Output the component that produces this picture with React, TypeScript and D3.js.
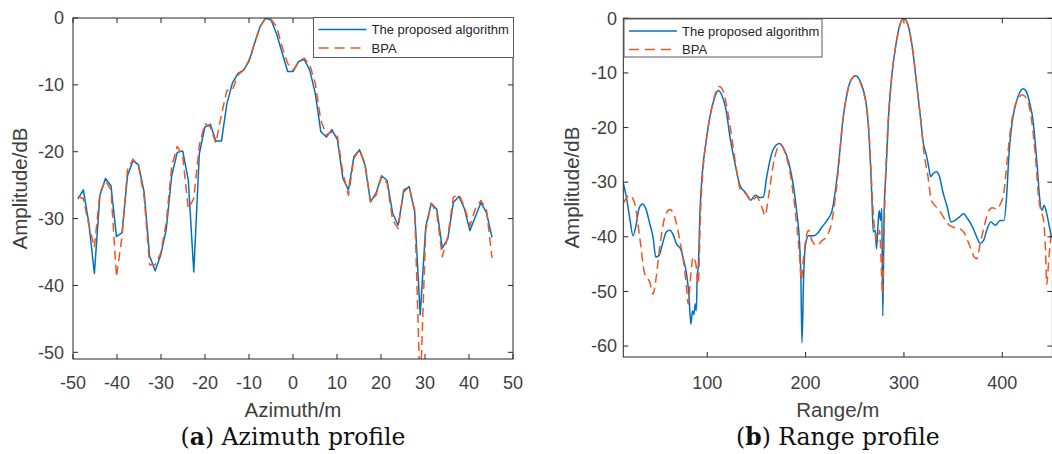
import React from 'react';
import * as d3 from 'd3';

// ---- Azimuth profile samples ----
const AZ_X = [
  -48.9, -47.65, -46.39, -45.14, -43.88, -42.63, -41.37, -40.12, -38.86, -37.61,
  -36.35, -35.1, -33.84, -32.59, -31.33, -30.08, -28.82, -27.57, -26.31, -25.06,
  -23.8, -22.55, -21.29, -20.04, -18.78, -17.53, -16.27, -15.02, -13.76, -12.51,
  -11.25, -10.0, -8.74, -7.49, -6.23, -4.98, -3.72, -2.47, -1.21, 0.05,
  1.3, 2.56, 3.81, 5.07, 6.32, 7.58, 8.83, 10.09, 11.34, 12.6,
  13.85, 15.11, 16.36, 17.62, 18.87, 20.13, 21.38, 22.64, 23.89, 25.15,
  26.4, 27.66, 28.91, 30.17, 31.42, 32.68, 33.93, 35.19, 36.44, 37.7,
  38.95, 40.21, 41.46, 42.72, 43.97, 45.23,
];
const AZ_PROPOSED = [
  -27.1, -25.7, -30.7, -38.2, -26.5, -24.0, -25.1, -32.7, -32.1, -23.6,
  -21.3, -22.0, -26.0, -35.6, -37.8, -35.5, -31.7, -23.6, -20.1, -19.9,
  -24.2, -38.0, -20.3, -16.3, -15.9, -18.4, -18.4, -12.8, -9.7, -8.3,
  -7.8, -6.5, -3.8, -1.3, 0, -0.3, -2.4, -5.2, -8.0, -8.0,
  -6.5, -6.2, -7.8, -11.3, -17.0, -17.8, -16.7, -18.2, -24.0, -25.7,
  -20.7, -19.7, -22.0, -27.5, -26.2, -23.6, -24.3, -29.2, -31.0, -26.0,
  -25.2, -29.0, -44.4, -31.2, -27.7, -28.6, -34.4, -33.0, -27.6, -26.7,
  -28.5, -31.8, -29.7, -27.6, -29.1, -32.8,
];
const AZ_BPA = [
  -26.7, -27.0, -31.0, -34.3, -26.2, -24.3, -25.7, -38.7, -32.7, -22.7,
  -21.1, -22.2, -26.7, -36.9, -36.9, -35.2, -30.7, -22.2, -19.2, -20.7,
  -28.5, -27.0, -19.0, -15.8, -16.3, -18.7, -14.5, -10.8, -10.8, -8.5,
  -7.8, -6.3, -3.8, -1.3, 0, -0.2, -1.3, -4.3, -6.8, -7.8,
  -6.5, -6.0, -7.0, -9.8, -15.3, -17.5, -17.0, -17.7, -23.2, -26.5,
  -21.0, -19.7, -21.7, -27.5, -26.5, -23.7, -24.7, -30.2, -31.5, -25.7,
  -25.2, -28.7, -56.0, -31.7, -27.7, -29.2, -35.7, -32.7, -26.8, -26.4,
  -28.2, -31.1, -28.5, -27.3, -28.7, -35.9,
];
const AZ_TICKS_X = [-50, -40, -30, -20, -10, 0, 10, 20, 30, 40, 50];
const AZ_TICKS_Y = [0, -10, -20, -30, -40, -50];

// ---- Range profile samples ----
const RANGE_PROPOSED_X = [
  14.6, 17.7, 21, 24.5, 27.9, 30.6, 34, 37.4, 41.5, 44.9, 47.6, 51, 54.4, 58.5, 61.9, 65.3,
  68.7, 72.8, 76.2, 78.9, 81.3, 83.3, 85.0, 86.4, 87.8, 88.8, 89.8, 91, 92.5, 95.2, 98.6,
  102.7, 106.8, 111.2, 114.6, 119, 123.1, 128.2, 133.3, 138.4, 144.2, 148.6, 153.7, 157.1,
  160.5, 165.6, 170.1, 173.5, 177.6, 182.7, 187.8, 191.2, 193.9, 195.2, 196.3, 198, 200,
  203.1, 208.2, 213.3, 216.7, 221.8, 226.9, 230.3, 233.2, 235.6, 237.9, 241.3, 245.6,
  250.7, 254.7, 259.1, 261.7, 264.1, 266.1, 267.4, 268.8, 270.8, 272.1, 273.5, 274.8,
  276.2, 277.5, 278.5, 279.9, 281.9, 284.2, 287.6, 291.6, 296, 300, 304.4, 308.4, 312.8,
  317.1, 319.5, 322.8, 325.2, 327.2, 329.9, 332.9, 336.2, 339.6, 344, 348, 352, 356.4,
  360.7, 364.8, 369.8, 374.2, 377.5, 380.9, 384.2, 388.3, 393.3, 397.7, 401.7, 404.4,
  406.7, 409.1, 412.4, 416.8, 421.1, 424.5, 427.9, 431.2, 433.6, 435.9, 437.9, 440.3,
  442.6, 445.3, 448, 450,
];
const RANGE_PROPOSED_Y = [
  -30.2, -32.7, -36.4, -39.8, -37.6, -34.8, -34.0, -34.8, -37.6, -40.1, -43.7, -43.4, -41.3, -39.1, -38.8, -39.6,
  -41.3, -42.2, -44.4, -46.8, -50.5, -56.0, -53.6, -54.2, -52.3, -53.5, -47.4, -45, -35.8, -27.8, -22.9,
  -18.0, -14.9, -13.2, -14.0, -16.7, -21.7, -26.6, -30.6, -31.8, -33.3, -32.4, -32.8, -32.7,
  -29.0, -24.7, -23.2, -22.9, -23.8, -26.3, -30.9, -35.8, -41.3, -47.4, -59.4, -47.4, -41.3,
  -39.8, -39.8, -39.1, -38.2, -37, -35.2, -31.5, -27.2, -22.9, -18.6, -14.6, -11.5,
  -10.5, -11.2, -13.4, -15.8, -20.4, -27.2, -32.7, -39.1, -38.8, -42.2, -38.2, -35.2,
  -37, -34.8, -54.5, -35.2, -27.8, -18.6, -10.6, -5.1, -1.1, 0, -1.4, -5.1, -11.8,
  -18.6, -22.6, -25.0, -27.2, -29.0, -28.4, -28.1, -29.0, -31.8, -34.5, -37.3, -37, -36.4,
  -35.8, -36.7, -38.2, -40.1, -41.2, -40.7, -38.8, -37.3, -37.9, -37.0, -37, -32.7,
  -25.3, -20.4, -16.7, -14.0, -12.9, -13.4, -15.5, -18.6, -22.9, -27.8, -32.7, -35.2,
  -34.2, -35.8, -38.2, -40.1,
];
const RANGE_BPA_X = [
  14.6, 21, 26.2, 31.3, 36.4, 41.5, 44.9, 47.6, 51.7, 56.8, 61.9, 67, 72.1, 76.2, 78.9,
  80.6, 83, 85.7, 88.4, 90.8, 93.2, 95.9, 99.3, 103.4, 107.8, 112.2, 116.3, 120.4, 124.8,
  129.3, 134, 139.5, 145.2, 150.3, 155.4, 158.8, 162.2, 166.7, 170.7, 174.8, 179.3, 183.7,
  187.8, 191.2, 193.9, 195.6, 197.3, 200, 203.1, 206.5, 211.6, 216.7, 221.8, 226.9, 230.3,
  233.9, 237.2, 241.3, 245.6, 250.7, 254.7, 259.1, 262.4, 264.8, 266.8, 269.1, 271.5,
  273.5, 275.2, 276.8, 278.2, 279.5, 280.9, 283.6, 287.6, 291.6, 296, 300, 304.4, 308.4,
  312.8, 317.1, 320.5, 324.5, 327.9, 331.2, 336.2, 341.2, 346.3, 351.3, 356.4, 360.7,
  364.8, 368.1, 371.5, 374.2, 377.5, 381.5, 385.6, 389.9, 394.3, 398.3, 401.7, 405.0,
  408.4, 412.4, 416.8, 420.1, 424.5, 428.5, 431.9, 434.6, 436.9, 439.3, 442, 444, 445.3,
  447, 448.7, 450,
];
const RANGE_BPA_Y = [
  -33.9, -32.4, -33.9, -40.1, -46.8, -48.3, -50.5, -48, -41.9, -36.4, -35.0, -36.4, -40.7, -45, -49.3,
  -52.3, -47.4, -43.7, -45, -48.7, -35.2, -27.2, -21.7, -17.4, -14.0, -12.5, -13.4, -16.7, -21.7,
  -27.2, -31.5, -32.1, -33.4, -32.7, -34.5, -36.1, -32.7, -27.2, -24.1, -23.2, -24.7, -27.8,
  -32.7, -38.2, -43.7, -48.0, -45, -40.7, -38.8, -40.7, -41.6, -40.7, -39.8, -37.0, -32.7,
  -26.6, -19.8, -14.6, -11.5, -10.6, -11.4, -13.7, -16.7, -21.7, -29, -36.4, -40.1,
  -40.7, -38.8, -44.4, -50.5, -41.3, -31.5, -19.8, -10.8, -5.2, -1.2, 0, -1.4, -5.2,
  -11.8, -18.6, -24.7, -29.0, -33.3, -34.2, -35.2, -36.7, -37.9, -38.3, -38.5, -39.1,
  -40.7, -42.2, -43.7, -44.0, -41.3, -38.2, -35.5, -34.7, -34.9, -33.9, -31.8, -26,
  -20.4, -16.4, -14.6, -14.0, -14.6, -17.1, -21.7, -27.2, -32.7, -35.2, -37, -42.5, -48.7,
  -45, -41.3, -39.4,
];
const RANGE_TICKS_X = [100, 200, 300, 400];
const RANGE_TICKS_Y = [0, -10, -20, -30, -40, -50, -60];

const SERIES_NAMES = ['The proposed algorithm', 'BPA'];

const BLUE = '#0072BD';
const ORANGE = '#F05522';
const AXIS = '#262626';
const TICK_TEXT = '#404040';
const SANS = '"Liberation Sans", Arial, Helvetica, sans-serif';
const SERIF = '"DejaVu Serif", "Liberation Serif", serif';

type Pt = [number, number];

interface PanelProps {
  id: string;
  x: d3.ScaleLinear<number, number>;
  y: d3.ScaleLinear<number, number>;
  xTicks: number[];
  yTicks: number[];
  proposed: Pt[];
  bpa: Pt[];
  xLabel: string;
  yLabelX: number;
  yTickRight: number;
  legend: { x: number; y: number; w: number; h: number };
  captionLetter: string;
  captionText: string;
  curve: d3.CurveFactory;
}

function Panel(p: PanelProps) {
  const [x0, x1] = p.x.range();
  const [y0, y1] = p.y.range(); // y0 bottom, y1 top
  const line = d3
    .line<Pt>()
    .x((d) => p.x(d[0]))
    .y((d) => p.y(d[1]))
    .curve(p.curve);
  const tl = 5;
  const cx = (x0 + x1) / 2;
  const cy = (y0 + y1) / 2;
  const lg = p.legend;
  return (
    <g>
      <defs>
        <clipPath id={`clip-${p.id}`}>
          <rect x={x0} y={y1} width={x1 - x0} height={y0 - y1} />
        </clipPath>
      </defs>
      <rect x={x0} y={y1} width={x1 - x0} height={y0 - y1} fill="#fff" />
      <g clipPath={`url(#clip-${p.id})`}>
        <path d={line(p.proposed) || ''} fill="none" stroke={BLUE} strokeWidth={1.5} strokeLinejoin="round" />
        <path d={line(p.bpa) || ''} fill="none" stroke={ORANGE} strokeWidth={1.5} strokeDasharray="9,5" strokeLinejoin="round" />
      </g>
      {/* box */}
      <rect x={x0} y={y1} width={x1 - x0} height={y0 - y1} fill="none" stroke={AXIS} strokeWidth={1} />
      {/* ticks */}
      {p.xTicks.map((t) => (
        <g key={`xt${t}`}>
          <line x1={p.x(t)} x2={p.x(t)} y1={y0} y2={y0 - tl} stroke={AXIS} />
          <line x1={p.x(t)} x2={p.x(t)} y1={y1} y2={y1 + tl} stroke={AXIS} />
          <text x={p.x(t)} y={388.5} textAnchor="middle" fontFamily={SANS} fontSize={18} fill={TICK_TEXT}>
            {String(t)}
          </text>
        </g>
      ))}
      {p.yTicks.map((t) => (
        <g key={`yt${t}`}>
          <line x1={x0} x2={x0 + tl} y1={p.y(t)} y2={p.y(t)} stroke={AXIS} />
          <line x1={x1} x2={x1 - tl} y1={p.y(t)} y2={p.y(t)} stroke={AXIS} />
          <text x={p.yTickRight} y={p.y(t) + 6.3} textAnchor="end" fontFamily={SANS} fontSize={18} fill={TICK_TEXT}>
            {String(t)}
          </text>
        </g>
      ))}
      {/* axis labels */}
      <text x={cx} y={416.5} textAnchor="middle" fontFamily={SANS} fontSize={20.5} fill={TICK_TEXT}>
        {p.xLabel}
      </text>
      <text
        transform={`translate(${p.yLabelX},${cy}) rotate(-90)`}
        textAnchor="middle"
        fontFamily={SANS}
        fontSize={20.5}
        fill={TICK_TEXT}
      >
        Amplitude/dB
      </text>
      {/* legend */}
      <rect x={lg.x} y={lg.y} width={lg.w} height={lg.h} fill="#fff" stroke="#5a5a5a" strokeWidth={1} />
      <line x1={lg.x + 5} x2={lg.x + 53} y1={lg.y + 12} y2={lg.y + 12} stroke={BLUE} strokeWidth={1.5} />
      <line x1={lg.x + 5} x2={lg.x + 53} y1={lg.y + 30.5} y2={lg.y + 30.5} stroke={ORANGE} strokeWidth={1.5} strokeDasharray="10,6" />
      <text x={lg.x + 58} y={lg.y + 16.5} fontFamily={SANS} fontSize={13} fill="#262626">
        {SERIES_NAMES[0]}
      </text>
      <text x={lg.x + 58} y={lg.y + 35} fontFamily={SANS} fontSize={13} fill="#262626">
        {SERIES_NAMES[1]}
      </text>
      {/* caption */}
      <text x={cx} y={445} textAnchor="middle" fontFamily={SERIF} fontSize={23.5} fill="#111">
        <tspan>(</tspan>
        <tspan fontWeight="bold">{p.captionLetter}</tspan>
        <tspan>{`) ${p.captionText}`}</tspan>
      </text>
    </g>
  );
}

export default function App() {
  const azX = d3.scaleLinear().domain([-50, 50]).range([73, 513]);
  const azY = d3.scaleLinear().domain([-51, 0]).range([359, 18]);
  const rgX = d3.scaleLinear().domain([14.6, 451]).range([623.3, 1052.4]);
  const rgY = d3.scaleLinear().domain([-62, 0]).range([357, 18.3]);

  const azProposed: Pt[] = AZ_X.map((v, i) => [v, AZ_PROPOSED[i]]);
  const azBpa: Pt[] = AZ_X.map((v, i) => [v, AZ_BPA[i]]);
  const rgProposed: Pt[] = RANGE_PROPOSED_X.map((v, i) => [v, RANGE_PROPOSED_Y[i]]);
  const rgBpa: Pt[] = RANGE_BPA_X.map((v, i) => [v, RANGE_BPA_Y[i]]);

  return (
    <svg
      width={1052}
      height={454}
      viewBox="0 0 1052 454"
      style={{ position: 'absolute', left: 0, top: 0, background: '#fff' }}
    >
      <rect x={0} y={0} width={1052} height={454} fill="#fff" />
      <Panel
        id="az"
        x={azX}
        y={azY}
        xTicks={AZ_TICKS_X}
        yTicks={AZ_TICKS_Y}
        proposed={azProposed}
        bpa={azBpa}
        xLabel="Azimuth/m"
        yLabelX={27}
        yTickRight={64}
        legend={{ x: 313.5, y: 17.5, w: 200, h: 40 }}
        captionLetter="a"
        captionText="Azimuth profile"
        curve={d3.curveLinear}
      />
      <Panel
        id="rg"
        x={rgX}
        y={rgY}
        xTicks={RANGE_TICKS_X}
        yTicks={RANGE_TICKS_Y}
        proposed={rgProposed}
        bpa={rgBpa}
        xLabel="Range/m"
        yLabelX={579}
        yTickRight={617}
        legend={{ x: 624, y: 19, w: 198, h: 38 }}
        captionLetter="b"
        captionText="Range profile"
        curve={d3.curveMonotoneX}
      />
    </svg>
  );
}
